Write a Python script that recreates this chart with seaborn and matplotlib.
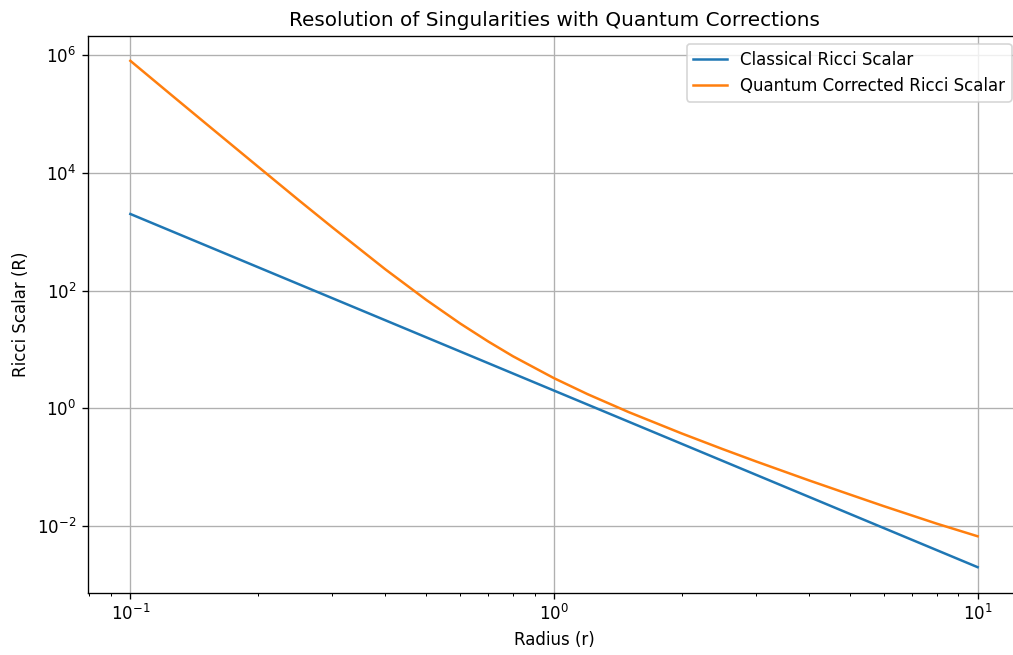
import numpy as np
import pandas as pd
import seaborn as sns
import matplotlib
matplotlib.use("Agg")
import matplotlib.pyplot as plt

# values (log-log axes)
r_classical = [0.1, 0.2, 0.5, 1.0, 2.0, 5.0, 10.0]
R_classical = [2000, 250, 16, 2.0, 0.25, 0.016, 0.002]

r_quantum = [0.1, 0.125, 0.15, 0.2, 0.25, 0.3, 0.4, 0.5, 0.6, 0.7, 0.8,
             1.0, 1.2, 1.5, 2.0, 2.5, 3.0, 4.0, 5.0, 6.0, 8.0, 10.0]
R_quantum = [8.0e5, 2.1e5, 7.08e4, 1.28e4, 3.41e3, 1.18e3, 229, 69, 27.7, 13.6, 7.66,
             3.25, 1.74, 0.863, 0.375, 0.203, 0.125, 0.0596, 0.0342, 0.0218, 0.011, 0.0067]

df_c = pd.DataFrame({"r": r_classical, "R": R_classical})
df_q = pd.DataFrame({"r": r_quantum, "R": R_quantum})

fig = plt.figure(figsize=(1014 / 120, 655 / 120), dpi=120)
ax = fig.add_axes([88 / 1014, 1 - 592.5 / 655, (1020 - 88) / 1014, (592.5 - 35.5) / 655])

sns.lineplot(data=df_c, x="r", y="R", ax=ax, color="#1f77b4", label="Classical Ricci Scalar")
sns.lineplot(data=df_q, x="r", y="R", ax=ax, color="#ff7f0e", label="Quantum Corrected Ricci Scalar")

ax.set_xscale("log")
ax.set_yscale("log")
ax.set_xlabel("Radius (r)")
ax.set_ylabel("Ricci Scalar (R)")
ax.set_title("Resolution of Singularities with Quantum Corrections")
ax.grid(True)
ax.legend(loc="upper right")

fig.savefig("out.png", dpi=120)
